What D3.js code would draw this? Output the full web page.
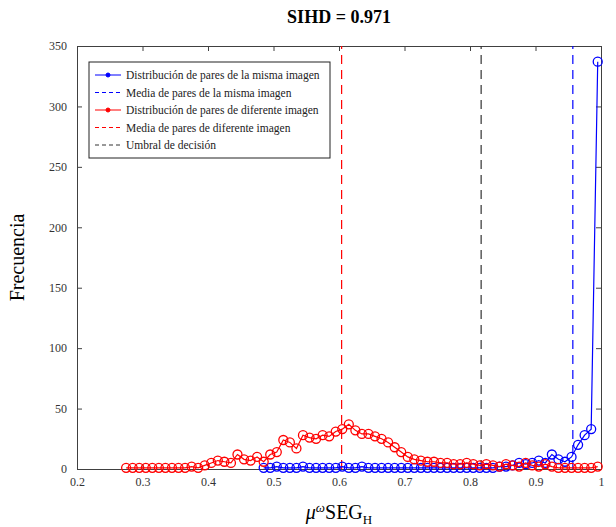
<!DOCTYPE html>
<html>
<head>
<meta charset="utf-8">
<script src="https://cdn.jsdelivr.net/npm/d3@7"></script>
<style>
  body { margin: 0; background: #fff; }
  svg text { font-family: "Liberation Serif", "DejaVu Serif", serif; }
</style>
</head>
<body>
<div id="chart"></div>
<script>
// bin centres and counts
var redX = [0.275, 0.285, 0.295, 0.305, 0.315, 0.325, 0.335, 0.345, 0.355, 0.365,
  0.375, 0.385, 0.395, 0.405, 0.415, 0.425, 0.435, 0.445, 0.455, 0.465,
  0.475, 0.485, 0.495, 0.505, 0.515, 0.525, 0.535, 0.545, 0.555, 0.565,
  0.575, 0.585, 0.595, 0.605, 0.615, 0.625, 0.635, 0.645, 0.655, 0.665,
  0.675, 0.685, 0.695, 0.705, 0.715, 0.725, 0.735, 0.745, 0.755, 0.765,
  0.775, 0.785, 0.795, 0.805, 0.815, 0.825, 0.835, 0.845, 0.855, 0.865,
  0.875, 0.885, 0.895, 0.905, 0.915, 0.925, 0.935, 0.945, 0.955, 0.965,
  0.975, 0.985, 0.995];
var redY = [1, 1, 1, 1, 1, 1, 1, 1, 1, 1,
  2, 1, 3, 5, 7, 6, 5, 12, 8, 7,
  10, 6, 12, 14, 24, 22, 17, 28, 26, 25,
  28, 27, 31, 33, 37, 32, 29, 29, 27, 25,
  22, 18, 14, 10, 8, 7, 6, 6, 5, 5,
  4, 4, 5, 4, 3, 4, 3, 2, 4, 3,
  2, 5, 3, 2, 4, 2, 1, 1, 1, 1,
  1, 1, 2];

var blueX = [0.485, 0.495, 0.505, 0.515, 0.525, 0.535, 0.545, 0.555, 0.565, 0.575,
  0.585, 0.595, 0.605, 0.615, 0.625, 0.635, 0.645, 0.655, 0.665, 0.675,
  0.685, 0.695, 0.705, 0.715, 0.725, 0.735, 0.745, 0.755, 0.765, 0.775,
  0.785, 0.795, 0.805, 0.815, 0.825, 0.835, 0.845, 0.855, 0.865, 0.875,
  0.885, 0.895, 0.905, 0.915, 0.925, 0.935, 0.945, 0.955, 0.965, 0.975,
  0.985, 0.995];
var blueY = [1, 1, 2, 1, 1, 1, 2, 1, 1, 1,
  1, 1, 2, 1, 1, 2, 1, 1, 1, 1,
  1, 1, 1, 1, 1, 1, 1, 1, 1, 1,
  1, 1, 1, 1, 1, 1, 2, 2, 3, 5,
  4, 5, 7, 5, 12, 8, 6, 10, 20, 28,
  33, 337];

// vertical reference lines
var meanSame = 0.957;
var meanDiff = 0.604;
var threshold = 0.817;

var xTicks = [0.2, 0.3, 0.4, 0.5, 0.6, 0.7, 0.8, 0.9, 1];
var yTicks = [0, 50, 100, 150, 200, 250, 300, 350];

var legendLabels = [
  "Distribución de pares de la misma imagen",
  "Media de pares de la misma imagen",
  "Distribución de pares de diferente imagen",
  "Media de pares de diferente imagen",
  "Umbral de decisión"
];

var width = 616, height = 527;
var padL = 77, padR = 601, padT = 46, padB = 469;
var blue = "#0000ff", red = "#ff0000", axisColor = "#404040";

var svg = d3.select("#chart")
  .append("svg")
  .attr("width", width).attr("height", height);

var x = d3.scaleLinear().domain([0.2, 1]).range([padL, padR]);
var y = d3.scaleLinear().domain([0, 350]).range([padB, padT]);

// title
svg.append("text")
  .attr("x", (padL + padR) / 2).attr("y", 23)
  .attr("text-anchor", "middle")
  .style("font-size", "18px").style("font-weight", "bold")
  .text("SIHD = 0.971");

// axes, ticks pointing inward like matlab
var fmt = function(d) { return d === 1 ? "1" : d3.format(".1f")(d); };
svg.append("g").attr("transform", "translate(0," + padB + ")")
  .call(d3.axisBottom(x).tickValues(xTicks).tickFormat(fmt).tickSizeInner(-5).tickSizeOuter(0).tickPadding(8));
svg.append("g").attr("transform", "translate(0," + padT + ")")
  .call(d3.axisTop(x).tickValues(xTicks).tickFormat("").tickSizeInner(-5).tickSizeOuter(0));
svg.append("g").attr("transform", "translate(" + padL + ",0)")
  .call(d3.axisLeft(y).tickValues(yTicks).tickSizeInner(-5).tickSizeOuter(0).tickPadding(10));
svg.append("g").attr("transform", "translate(" + padR + ",0)")
  .call(d3.axisRight(y).tickValues(yTicks).tickFormat("").tickSizeInner(-5).tickSizeOuter(0));

svg.selectAll(".domain, .tick line").attr("stroke", axisColor);
svg.selectAll(".tick text")
  .attr("fill", "#333")
  .style("font-family", "Liberation Serif, serif")
  .style("font-size", "12px");

// dashed reference lines
var vlines = [[meanDiff, red], [threshold, "#333"], [meanSame, blue]];
svg.selectAll(".vline").data(vlines).enter()
  .append("line")
  .attr("x1", function(d) { return x(d[0]); }).attr("x2", function(d) { return x(d[0]); })
  .attr("y1", padB).attr("y2", padT)
  .attr("stroke", function(d) { return d[1]; })
  .attr("stroke-width", 1.2)
  .attr("stroke-dasharray", "9,6");

// series
var line = d3.line()
  .x(function(d) { return x(d[0]); })
  .y(function(d) { return y(d[1]); });

function drawSeries(xs, ys, color) {
  var pts = xs.map(function(v, i) { return [v, ys[i]]; });
  svg.append("path").datum(pts)
    .attr("d", line).attr("fill", "none")
    .attr("stroke", color).attr("stroke-width", 1.2);
  svg.append("g").selectAll("circle").data(pts).enter()
    .append("circle")
    .attr("cx", function(d) { return x(d[0]); })
    .attr("cy", function(d) { return y(d[1]); })
    .attr("r", 4.5)
    .attr("fill", "none")
    .attr("stroke", color).attr("stroke-width", 1.3);
}
drawSeries(blueX, blueY, blue);
drawSeries(redX, redY, red);

// legend
var lg = svg.append("g").attr("transform", "translate(89,62)");
lg.append("rect").attr("width", 241).attr("height", 96)
  .attr("fill", "#fff").attr("stroke", "#222").attr("stroke-width", 1);
var legendStyle = [
  { color: blue, dash: null, marker: true },
  { color: blue, dash: "4,3", marker: false },
  { color: red, dash: null, marker: true },
  { color: red, dash: "4,3", marker: false },
  { color: "#333", dash: "4,3", marker: false }
];
legendLabels.forEach(function(label, i) {
  var ly = 13 + i * 17.5;
  var s = legendStyle[i];
  lg.append("line").attr("x1", 6).attr("x2", 32).attr("y1", ly).attr("y2", ly)
    .attr("stroke", s.color).attr("stroke-width", 1)
    .attr("stroke-dasharray", s.dash);
  if (s.marker) {
    lg.append("circle").attr("cx", 19).attr("cy", ly).attr("r", 2)
      .attr("fill", s.color).attr("stroke", s.color);
  }
  lg.append("text").attr("x", 37).attr("y", ly + 4)
    .style("font-size", "11.5px").attr("fill", "#222")
    .text(label);
});

// axis labels
svg.append("text")
  .attr("transform", "translate(24," + (padT + padB) / 2 + ") rotate(-90)")
  .attr("text-anchor", "middle")
  .style("font-size", "20px")
  .text("Frecuencia");

var xl = svg.append("text")
  .attr("x", (padL + padR) / 2).attr("y", 519)
  .attr("text-anchor", "middle")
  .style("font-size", "20px");
xl.append("tspan").style("font-style", "italic").text("μ");
xl.append("tspan").attr("dy", -7).style("font-size", "13px").style("font-style", "italic").text("ω");
xl.append("tspan").attr("dy", 7).text("SEG");
xl.append("tspan").attr("dy", 5).style("font-size", "13px").text("H");
</script>
</body>
</html>
